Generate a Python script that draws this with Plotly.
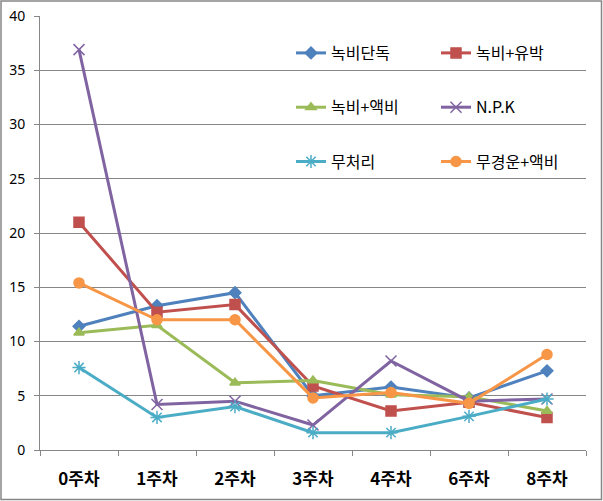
import plotly.graph_objects as go

categories = ["0주차", "1주차", "2주차", "3주차", "4주차", "6주차", "8주차"]
names = ["녹비단독", "녹비+유박", "녹비+액비", "N.P.K", "무처리", "무경운+액비"]
s_green_only = [11.4, 13.3, 14.5, 5.0, 5.8, 4.8, 7.3]
s_green_oilcake = [21.0, 12.7, 13.4, 5.9, 3.6, 4.4, 3.0]
s_green_liquid = [10.8, 11.5, 6.2, 6.4, 5.1, 4.9, 3.6]
s_npk = [36.9, 4.2, 4.5, 2.3, 8.2, 4.5, 4.7]
s_control = [7.6, 3.0, 4.0, 1.6, 1.6, 3.1, 4.7]
s_notill_liquid = [15.4, 12.0, 12.0, 4.8, 5.3, 4.3, 8.8]
y_ticks = [0, 5, 10, 15, 20, 25, 30, 35, 40]

series = [s_green_only, s_green_oilcake, s_green_liquid, s_npk, s_control, s_notill_liquid]
colors = ["#4F81BD", "#C0504D", "#9BBB59", "#8064A2", "#4BACC6", "#F79646"]
symbols = ["diamond", "square", "triangle-up", "x-thin-open", "asterisk-open", "circle"]
msizes = [9, 10, 9, 11, 11, 10]
legends = ["legend", "legend2", "legend", "legend2", "legend", "legend2"]

fig = go.Figure()
for i, (nm, vals) in enumerate(zip(names, series)):
    fig.add_trace(go.Scatter(
        x=categories, y=vals, name=nm, mode="lines+markers",
        line=dict(color=colors[i], width=3),
        marker=dict(symbol=symbols[i], size=msizes[i], color=colors[i],
                    line=dict(color=colors[i], width=1.5)),
        legend=legends[i], legendgroup=nm,
    ))

grid = "#878787"
leg_common = dict(
    yanchor="top", xanchor="left", bgcolor="rgba(0,0,0,0)",
    font=dict(family="Noto Sans CJK KR", size=16, color="#000000"),
    traceorder="grouped", tracegroupgap=30.5, itemwidth=30,
)
fig.update_layout(
    width=603, height=501,
    margin=dict(l=40, r=17, t=16, b=51, autoexpand=False),
    paper_bgcolor="white", plot_bgcolor="white",
    font=dict(family="Noto Sans CJK KR", color="#000000"),
    showlegend=True,
    legend=dict(x=(291 - 40) / 546, y=(450 - 36) / 434, **leg_common),
    legend2=dict(x=(436 - 40) / 546, y=(450 - 36) / 434, **leg_common),
    xaxis=dict(
        type="category", range=[-0.5, 6.5], showgrid=False, automargin=False,
        showline=True, linecolor=grid, linewidth=1,
        ticks="outside", tickson="boundaries", ticklen=5, tickcolor=grid,
        ticklabelstandoff=14,
        tickfont=dict(family="Noto Sans CJK KR", size=17, color="#000000", weight="bold"),
    ),
    yaxis=dict(
        range=[0, 40], tickvals=y_ticks, showgrid=True, gridcolor=grid, gridwidth=1,
        showline=True, linecolor=grid, linewidth=1, zeroline=False, automargin=False,
        ticks="outside", ticklen=5, tickcolor=grid, ticklabelstandoff=6,
        tickfont=dict(family="Noto Sans", size=14, color="#000000"),
    ),
    shapes=[dict(type="rect", xref="paper", yref="paper",
                 x0=(1 - 40) / 546, x1=(601.5 - 40) / 546,
                 y0=(450 - 499.5) / 434, y1=(450 - 1) / 434,
                 line=dict(color="#868686", width=1.5), fillcolor="rgba(0,0,0,0)",
                 layer="below")],
)

fig.write_html("out.html")
